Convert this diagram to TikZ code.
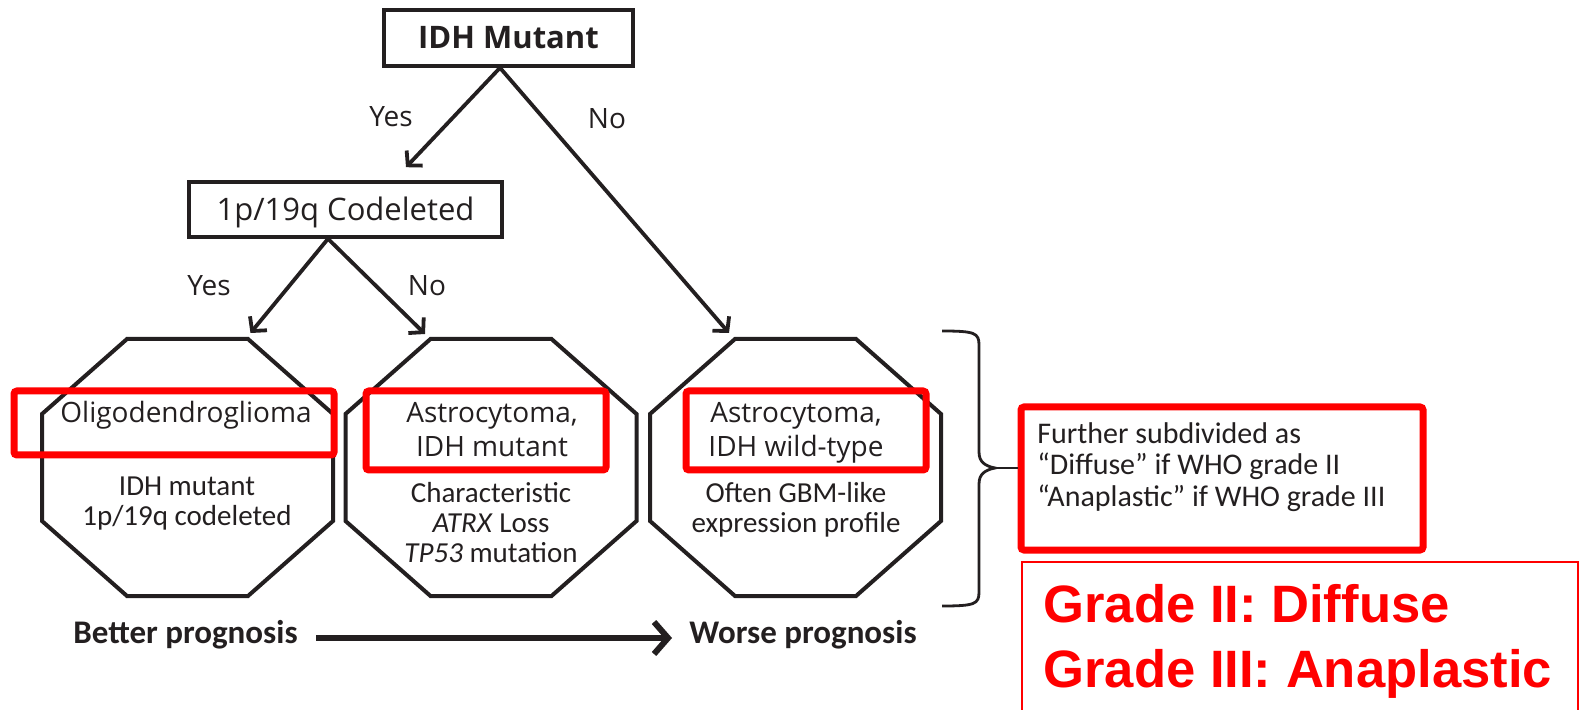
\documentclass[tikz,border=0pt]{standalone}
\usepackage{fontspec}
\setmainfont{Open Sans}
\newfontfamily\calfont{Carlito}
\newfontfamily\gradefont{Liberation Sans}
\usetikzlibrary{arrows.meta,calc,positioning}

\definecolor{ink}{HTML}{231F20}
\definecolor{hired}{HTML}{FF0000}

\tikzset{
  qbox/.style={draw=ink, line width=1.8pt, inner sep=0pt, text=ink, font=\fontsize{15.5}{18}\selectfont},
  flow/.style={draw=ink, line width=1.9pt, -{Straight Barb[length=5pt,width=11pt]}},
  answer/.style={anchor=base, inner sep=0pt, text=ink, font=\fontsize{14}{17}\selectfont},
  octline/.style={draw=ink, line width=2pt, line join=miter},
  title/.style={anchor=base, inner sep=0pt, align=center, text=ink, font=\fontsize{14}{17}\selectfont},
  detail/.style={anchor=base, inner sep=0pt, align=center, text=ink, font=\calfont\fontsize{14.5}{15}\selectfont},
  hilite/.style={draw=hired, line width=3.5pt, rounded corners=1.5pt},
  prog/.style={anchor=base west, inner sep=0pt, text=ink, font=\calfont\bfseries\fontsize{16.5}{18}\selectfont},
  octagon/.pic={
    \draw[octline] (-60.5,-128.5) -- (60.5,-128.5) -- (145.5,-53.5) -- (145.5,53.5)
      -- (60.5,128.5) -- (-60.5,128.5) -- (-145.5,53.5) -- (-145.5,-53.5) -- cycle;
    \coordinate (-nw) at (-60.5,-128.5);
    \coordinate (-ne) at (60.5,-128.5);
  }
}

\begin{document}
\begin{tikzpicture}[x=0.5pt,y=-0.5pt]
\useasboundingbox (0,0) rectangle (1583,710);

% questions
\node[qbox, minimum width=124.5pt, minimum height=28pt, font=\bfseries\fontsize{15.5}{18}\selectfont] (idh) at (508.5,38) {IDH Mutant};
\node[qbox, minimum width=156.5pt, minimum height=27.5pt, text height=15.2pt, text depth=3.7pt] (codel) at (345.5,209.5) {1p/19q Codeleted};

% tumour types
\pic (oligo) at (187.5,467.5) {octagon};
\pic (astro) at (491,467.5) {octagon};
\pic (wild) at (795.5,467.5) {octagon};

\draw[flow] ([xshift=-4.25pt]idh.south) -- ($(codel.north)+(60.5,-13)$);
\draw[flow] ([xshift=-4.25pt]idh.south) -- ($(wild-nw)+(-6,-6)$);
\draw[flow] ([xshift=-8.75pt]codel.south) -- ($(oligo-ne)+(2.5,-6)$);
\draw[flow] ([xshift=-8.75pt]codel.south) -- ($(astro-nw)+(-5.5,-5)$);

\node[answer] (yes1) at (391,127) {Yes};
\node[answer] (no1) at (607,129) {No};
\node[answer] (yes2) at (209,296) {Yes};
\node[answer] (no2) at (427,296) {No};

% text of the tumour types (base = last line)
\node[title] (oligo-name) at (186,423) {Oligodendroglioma};
\node[detail] (oligo-info) at (187,525) {IDH mutant\\1p/19q codeleted};
\node[title] (astro-name) at (492,457) {Astrocytoma,\\IDH mutant};
\node[detail] (astro-info) at (491,562) {Characteristic\\\textit{ATRX} Loss\\\textit{TP53} mutation};
\node[title] (wild-name) at (796,457) {Astrocytoma,\\IDH wild-type};
\node[detail] (wild-info) at (796,532) {Often GBM-like\\expression profile};

% red highlights
\draw[hilite] (14,391) rectangle (334,455);
\draw[hilite] (366,391) rectangle (606,470);
\draw[hilite] (686,391) rectangle (926,470);

% brace
\coordinate (tip) at (995,468);
\draw[ink, line width=1.4pt] (942,331) .. controls (975,331) and (979,333) .. (979,345) -- (979,452)
  .. controls (979,462) and (985,466) .. (tip) .. controls (985,470) and (979,474) .. (979,484)
  -- (979,592) .. controls (979,604) and (975,606) .. (942,606);
\node[hilite, minimum width=201pt, minimum height=71.5pt] (further) at (1222,478.5) {};
\draw[ink, line width=1.4pt] (tip) -- (tip -| further.west);
\node[anchor=base west, inner sep=0pt, align=left, text=ink, font=\calfont\fontsize{15}{15.75}\selectfont] (further-text) at (1037,506) {Further subdivided as\\“Diffuse” if WHO grade II\\“Anaplastic” if WHO grade III};

\draw[hired, line width=0.75pt] (1022,562) rectangle (1578,720);
\node[anchor=base west, inner sep=0pt, align=left, text=hired, font=\gradefont\bfseries\fontsize{26.3}{32.5}\selectfont] (grades) at (1043,687) {Grade II: Diffuse\\Grade III: Anaplastic};

% prognosis
\node[prog] (better) at (73,643) {Better prognosis};
\node[prog] (worse) at (689,643) {Worse prognosis};
\draw[ink, line width=3pt, -{Straight Barb[length=7pt,width=16pt]}] ($(better.base east)+(18,-5)$) -- ($(worse.base west)+(-17,-5)$);
\end{tikzpicture}
\end{document}
